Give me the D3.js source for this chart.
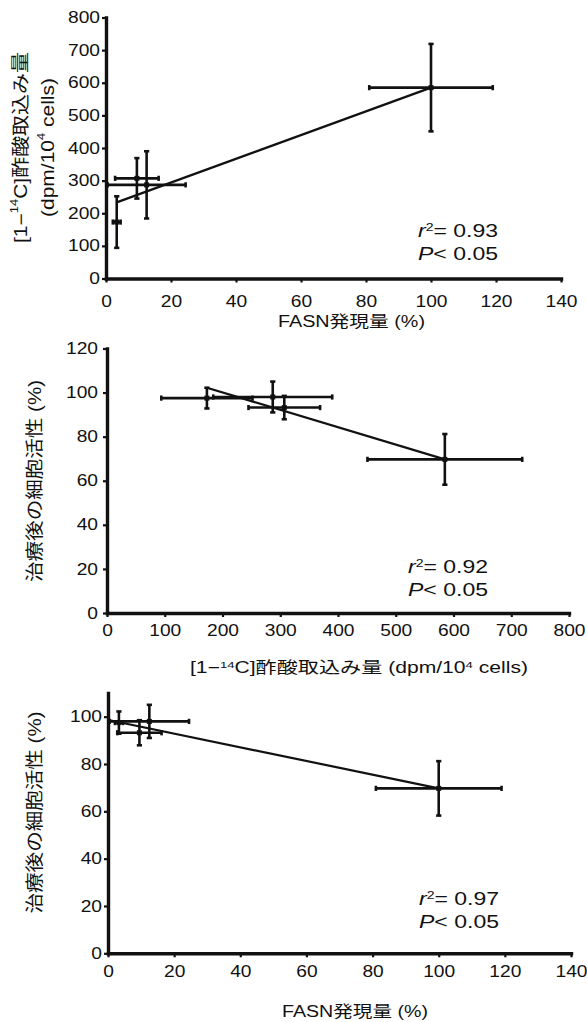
<!DOCTYPE html>
<html>
<head>
<meta charset="utf-8">
<script src="https://cdn.jsdelivr.net/npm/d3@7"></script>
<style>
  body { margin: 0; background: #fff; }
  svg { display: block; }
  text { fill: #111; font-family: "Liberation Sans", Arial, "Noto Sans CJK JP", sans-serif; }
  .jp { font-family: "Liberation Sans", Arial, "Noto Sans CJK JP", sans-serif; }
</style>
</head>
<body>
<svg></svg>
<script>
// values
const fasn = [3.3, 9.5, 12.5, 100];
const fasnErr = [1.2, 6.7, 12, 19];
const uptake = [173, 307, 287, 585];
const uptakeErr = [79, 62, 103, 134];
const viability = [97.5, 93.2, 98, 69.7];
const viabilityErr = [4.7, 5.3, 7, 11.5];

const fit1X = [3.5, 100], fit1Y = [234, 585];
const fit2X = [173, 585], fit2Y = [102.2, 69.7];
const fit3X = [0.5, 100], fit3Y = [98.5, 69.7];

const fasnTicks = [0, 20, 40, 60, 80, 100, 120, 140];
const uptakeTicks = [0, 100, 200, 300, 400, 500, 600, 700, 800];
const viabTicks2 = [0, 20, 40, 60, 80, 100, 120];
const viabTicks3 = [0, 20, 40, 60, 80, 100];
const r2Values = ['0.93', '0.92', '0.97'];

const W = 587, H = 1022;
const SX = 1.2; // the picture's text is a bit wider than tall

const svg = d3.select('svg').attr('width', W).attr('height', H);

const panels = [
  {
    x: fasn, xe: fasnErr, y: uptake, ye: uptakeErr,
    fx: fit1X, fy: fit1Y,
    xDom: [0, 140], yDom: [0, 800], xTicks: fasnTicks, yTicks: uptakeTicks,
    xRange: [106, 561], yRange: [278.5, 17.5],
    xPad: 13, yGap: 6, stat: [418, 237], r2: r2Values[0],
  },
  {
    x: uptake, xe: uptakeErr, y: viability, ye: viabilityErr,
    fx: fit2X, fy: fit2Y,
    xDom: [0, 800], yDom: [0, 120], xTicks: uptakeTicks, yTicks: viabTicks2,
    xRange: [107, 569], yRange: [613, 348.5],
    xPad: 8, yGap: 9, stat: [408, 573], r2: r2Values[1],
  },
  {
    x: fasn, xe: fasnErr, y: viability, ye: viabilityErr,
    fx: fit3X, fy: fit3Y,
    xDom: [0, 140], yDom: [0, 110], xTicks: fasnTicks, yTicks: viabTicks3,
    xRange: [108, 571], yRange: [953.3, 693],
    xPad: 8, yGap: 6, stat: [419, 905], r2: r2Values[2],
  },
];

panels.forEach(p => {
  const x = d3.scaleLinear().domain(p.xDom).range(p.xRange);
  const y = d3.scaleLinear().domain(p.yDom).range(p.yRange);
  const g = svg.append('g');

  const xAxis = g.append('g')
    .attr('transform', `translate(0,${p.yRange[0]})`)
    .call(d3.axisBottom(x).tickValues(p.xTicks).tickSize(4).tickSizeOuter(0).tickPadding(p.xPad));
  const yAxis = g.append('g')
    .attr('transform', `translate(${p.xRange[0]},0)`)
    .call(d3.axisLeft(y).tickValues(p.yTicks).tickSize(4).tickSizeOuter(0).tickPadding(0));

  [xAxis, yAxis].forEach(a => {
    a.select('.domain').attr('stroke', '#111').attr('stroke-width', 3.4).attr('stroke-linecap', 'square');
    a.selectAll('.tick line').attr('stroke', '#111').attr('stroke-width', 2.2);
    a.selectAll('.tick text')
      .attr('fill', '#111')
      .style('font-size', '16px')
      .style('font-family', '"Liberation Sans", Arial, sans-serif');
  });
  xAxis.selectAll('.tick text').attr('transform', `scale(${SX},1)`);
  yAxis.selectAll('.tick text')
    .attr('x', -(p.yGap) / SX)
    .attr('transform', `scale(${SX},1)`);

  // error bars
  const k = 2.6;
  const bars = g.append('g').attr('stroke', '#111').attr('stroke-width', 2.6).attr('fill', 'none');
  p.x.forEach((xv, i) => {
    const cx = x(xv), cy = y(p.y[i]);
    const x0 = x(Math.max(xv - p.xe[i], 0)), x1 = x(xv + p.xe[i]);
    const y0 = y(p.y[i] - p.ye[i]), y1 = y(p.y[i] + p.ye[i]);
    bars.append('line').attr('x1', x0).attr('x2', x1).attr('y1', cy).attr('y2', cy);
    bars.append('line').attr('x1', x0).attr('x2', x0).attr('y1', cy - k).attr('y2', cy + k);
    bars.append('line').attr('x1', x1).attr('x2', x1).attr('y1', cy - k).attr('y2', cy + k);
    bars.append('line').attr('x1', cx).attr('x2', cx).attr('y1', y0).attr('y2', y1);
    bars.append('line').attr('x1', cx - k).attr('x2', cx + k).attr('y1', y0).attr('y2', y0);
    bars.append('line').attr('x1', cx - k).attr('x2', cx + k).attr('y1', y1).attr('y2', y1);
  });

  g.append('g').selectAll('rect')
    .data(p.x)
    .enter().append('rect')
    .attr('x', (d) => x(d) - 2.5)
    .attr('y', (d, i) => y(p.y[i]) - 2.5)
    .attr('width', 5)
    .attr('height', 5)
    .attr('fill', '#111');

  // regression line
  g.append('line')
    .attr('x1', x(p.fx[0])).attr('y1', y(p.fy[0]))
    .attr('x2', x(p.fx[1])).attr('y2', y(p.fy[1]))
    .attr('stroke', '#111').attr('stroke-width', 2.2);

  // r2 and P
  const t1 = g.append('text')
    .attr('x', p.stat[0]).attr('y', p.stat[1])
    .attr('textLength', 80).attr('lengthAdjust', 'spacingAndGlyphs')
    .style('font-size', '18px');
  t1.append('tspan').style('font-style', 'italic').text('r');
  t1.append('tspan').attr('baseline-shift', 'super').style('font-size', '11px').text('2');
  t1.append('tspan').text('= ' + p.r2);

  const t2 = g.append('text')
    .attr('x', p.stat[0]).attr('y', p.stat[1] + 22.5)
    .attr('textLength', 80).attr('lengthAdjust', 'spacingAndGlyphs')
    .style('font-size', '18px');
  t2.append('tspan').style('font-style', 'italic').text('P');
  t2.append('tspan').text('< 0.05');
});

// axis titles
const sup = (sel, parts) => {
  parts.forEach(part => {
    const ts = sel.append('tspan').text(part.t);
    if (part.sup) ts.attr('baseline-shift', 'super').style('font-size', '0.62em');
  });
  return sel;
};

const uptakeLabel = [{ t: '[1−' }, { t: '14', sup: true }, { t: 'C]酢酸取込み量' }];
const unitLabel = [{ t: '(dpm/10' }, { t: '4', sup: true }, { t: ' cells)' }];

const hTitle = (cx, base, len, parts) => {
  sup(svg.append('text')
    .attr('class', 'jp')
    .attr('x', cx).attr('y', base)
    .attr('text-anchor', 'middle')
    .attr('textLength', len).attr('lengthAdjust', 'spacingAndGlyphs')
    .style('font-size', '16px'), parts);
};

const vTitle = (cx, cy, len, parts) => {
  sup(svg.append('text')
    .attr('class', 'jp')
    .attr('transform', `translate(${cx},${cy}) scale(${SX},1) rotate(-90)`)
    .attr('text-anchor', 'middle')
    .attr('dominant-baseline', 'central')
    .attr('textLength', len).attr('lengthAdjust', 'spacingAndGlyphs')
    .style('font-size', '15px'), parts);
};

hTitle(351.5, 327, 147, [{ t: 'FASN発現量 (%)' }]);
hTitle(359, 673, 338, uptakeLabel.concat([{ t: ' ' }], unitLabel));
hTitle(355, 1017, 146, [{ t: 'FASN発現量 (%)' }]);

vTitle(20.5, 147.5, 191, uptakeLabel);
vTitle(47, 147.5, 139, unitLabel);
vTitle(34, 481, 202, [{ t: '治療後の細胞活性 (%)' }]);
vTitle(34, 812.5, 202, [{ t: '治療後の細胞活性 (%)' }]);
</script>
</body>
</html>
